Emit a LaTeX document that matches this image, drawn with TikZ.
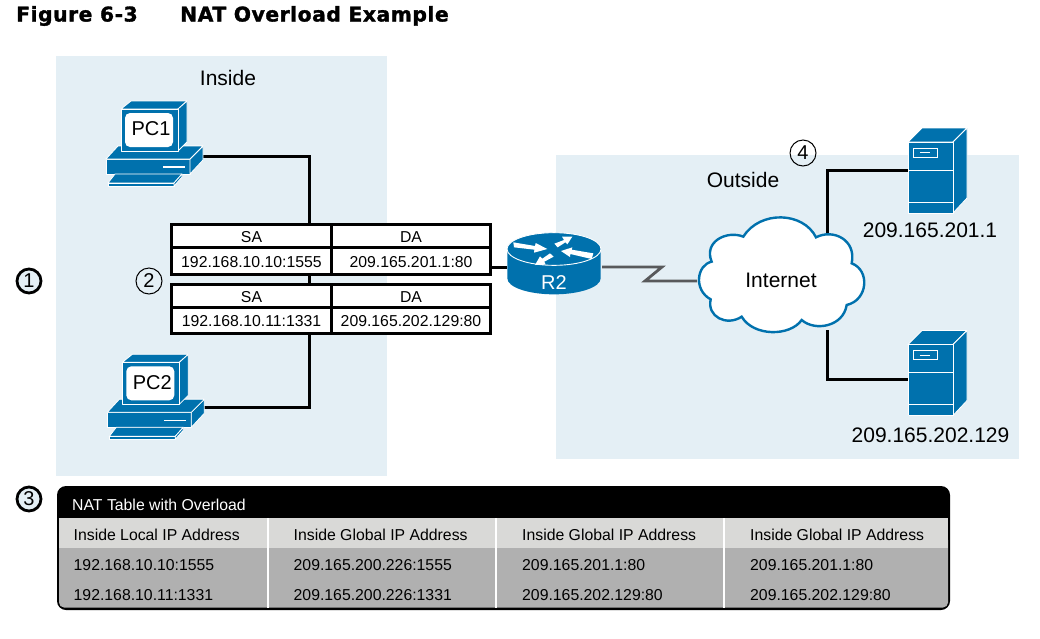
\documentclass[tikz,border=0pt]{standalone}
\usepackage{fontspec}
\setmainfont{Liberation Sans}
\newfontfamily\titlefont[LetterSpace=2.6,FakeBold=1.5]{DejaVu Sans Bold}
\usetikzlibrary{arrows.meta}
\definecolor{region}{HTML}{E4EFF5}
\definecolor{ciscoblue}{HTML}{0071AD}
\definecolor{serialgray}{HTML}{58595B}
\definecolor{headgray}{HTML}{D9D9D7}
\definecolor{datagray}{HTML}{B0B0B0}
\newcommand{\celltext}[1]{\raisebox{-1.2pt}[\height][0pt]{#1}}
\tikzset{
  x=1pt,y=-1pt,
  link/.style={line width=3pt,black,line join=miter},
  serial/.style={line width=2.8pt,serialgray,line join=miter},
  blueface/.style={fill=ciscoblue,draw=white,line width=0.8pt,line join=round},
  label/.style={font=\fontsize{21}{25}\selectfont,inner sep=0pt},
  small/.style={font=\fontsize{15.8}{19}\selectfont,inner sep=0pt},
  cellh/.style={draw=black,line width=3pt,fill=white,minimum width=159.5pt,inner sep=0pt,font=\fontsize{15.8}{19}\selectfont},
  tabtext/.style={small,anchor=base west},
  callthin/.style={circle,draw=black,line width=1pt,minimum size=26pt,inner sep=0pt,font=\fontsize{20}{24}\selectfont},
  callthick/.style={circle,draw=black,fill=region,line width=2.8pt,minimum size=24pt,inner sep=0pt,font=\fontsize{20}{24}\selectfont},
  pics/pcicon/.style={code={
    \fill[blueface] (0,13)--(84,13)--(97,0)--(12,0)--cycle;
    \draw[blueface] (0,13)--(84,13)--(84,28)--(0,28)--cycle;
    \draw[blueface] (84,13)--(97,0)--(97,14)--(84,28)--cycle;
    \draw[blueface] (0,13)--(84,13)--(97,0)--(12,0)--cycle;
    \draw[blueface] (15,-37)--(25,-45)--(81,-45)--(72,-37)--cycle;
    \draw[blueface] (72,-37)--(81,-45)--(81,-4)--(72,5)--cycle;
    \draw[blueface] (15,-37) rectangle (72,5);
    \draw[white,line width=1.2pt] (57,21)--(79,21);
    \draw[blueface] (9,28)--(76,28)--(68,37)--(2,37)--cycle;
    \draw[blueface] (2,37)--(68,37)--(68,40)--(2,40)--cycle;
    \draw[blueface] (68,37)--(76,28)--(76,31)--(68,40)--cycle;
    \node[fill=white,rounded corners=5pt,minimum width=48pt,minimum height=34pt,inner sep=0pt] (-screen) at (43,-16) {};
    \node[inner sep=0pt,font=\fontsize{20}{24}\selectfont] (-text) at (45,-17) {\tikzpictext};
  }},
  pics/servericon/.style={code={
    \draw[blueface] (0,14)--(14,0)--(59,0)--(45,14)--cycle;
    \draw[blueface] (45,14)--(59,0)--(59,70)--(45,85)--cycle;
    \draw[blueface] (0,14) rectangle (45,85);
    \draw[white,line width=0.9pt] (0,42)--(45,42) (0,74)--(45,74);
    \draw[white,line width=0.9pt] (5,20) rectangle (29,29);
    \draw[white,line width=0.9pt] (12,24.5)--(22,24.5);
  }},
}
\begin{document}
\begin{tikzpicture}
\useasboundingbox (0,0) rectangle (1040,638);
\fill[white] (0,0) rectangle (1040,638);
% regions
\fill[region] (56,56) rectangle (387,476);
\fill[region] (556,155) rectangle (1019,459);
% title
\node[anchor=base west,inner sep=0pt,font=\titlefont\fontsize{20.3}{24}\selectfont] (figno) at (16,21.5) {Figure 6-3};
\node[anchor=base west,inner sep=0pt,font=\titlefont\fontsize{20.3}{24}\selectfont] (figtitle) at (180,21.5) {NAT Overload Example};
\node[label] (inside) at (228,78) {Inside};
\node[label] (outside) at (743,180) {Outside};
% anchors for connectors
\coordinate (bus1) at (309,224);
\coordinate (bus2) at (309,274);
\coordinate (bus3) at (309,284);
\coordinate (bus4) at (309,333);
\coordinate (routerw) at (507,267);
\coordinate (routere) at (602,267);
\coordinate (tabe) at (491,267);
\coordinate (kink1) at (662,267);
\coordinate (kink2) at (645,281);
\coordinate (cloudw) at (697,281);
\coordinate (cloudt) at (827,240);
\coordinate (cloudb) at (827,330);
\coordinate (pc1port) at (203,156);
\coordinate (pc2port) at (204,407);
\coordinate (srv1port) at (908,170);
\coordinate (srv2port) at (908,379);
% connectors
\draw[link] (pc1port) -| (bus1);
\draw[link] (pc2port) -| (bus4);
\draw[link] (bus2) -- (bus3);
\draw[link] (tabe) -- (routerw);
\draw[serial] (routere) -- (kink1) -- (kink2) -- (cloudw);
\draw[link] (srv1port) -| (cloudt);
\draw[link] (srv2port) -| (cloudb);
% icons
\pic (pc1) at (106,146) [pic text=PC1] {pcicon};
\pic (pc2) at (107.3,399.3) [pic text=PC2] {pcicon};
\pic (srv1) at (908,128) {servericon};
\pic (srv2) at (908,330.5) {servericon};
% router
\begin{scope}[shift={(490,210)},scale=1/3]
  \fill[ciscoblue] (52,117) -- (52,205) arc[x radius=140,y radius=48,start angle=180,end angle=0] -- (332,117) -- cycle;
  \draw[white,line width=0.9pt,fill=ciscoblue] (192,117) ellipse[x radius=141,y radius=49];
  \fill[white] (70,97)--(135,108)--(137,99)--(172,117)--(132,128)--(133,119)--(72,112)--cycle;
  \fill[white] (193,101)--(222,90)--(216,80)--(247,80)--(232,103)--(226,97)--(203,112)--cycle;
  \fill[white] (310,130)--(245,119)--(247,112)--(213,123)--(240,141)--(241,132)--(305,147)--cycle;
  \fill[white] (180,130)--(157,146)--(150,139)--(135,165)--(167,164)--(163,155)--(191,140)--cycle;
\end{scope}
\node[inner sep=0pt,white,font=\fontsize{20}{24}\selectfont] (r2) at (554,283) {R2};
% cloud
\begin{scope}[shift={(690,120)},scale=1/3]
  \draw[fill=white,draw=ciscoblue,line width=2.4pt]
    (65,425) .. controls (20,435) and (10,510) .. (62,538)
    .. controls (50,590) and (110,620) .. (155,590)
    .. controls (190,650) and (300,650) .. (335,600)
    .. controls (375,635) and (460,620) .. (470,555)
    .. controls (535,540) and (540,450) .. (485,430)
    .. controls (500,360) and (430,325) .. (378,352)
    .. controls (340,275) and (210,270) .. (160,350)
    .. controls (110,330) and (40,365) .. (65,425) -- cycle;
\end{scope}
\node[label] (internet) at (781,280) {Internet};
\node[label] (ip1) at (930,230) {209.165.201.1};
\node[label] (ip2) at (930.5,435) {209.165.202.129};
% packet tables
\node[cellh,minimum height=23pt] (sa1) at (251.5,235.5) {\celltext{SA}};
\node[cellh,minimum height=23pt] (da1) at (411,235.5) {\celltext{DA}};
\node[cellh,minimum height=27pt] (sa1v) at (251.5,260.5) {\celltext{192.168.10.10:1555}};
\node[cellh,minimum height=27pt] (da1v) at (411,260.5) {\celltext{209.165.201.1:80}};
\node[cellh,minimum height=23pt] (sa2) at (251.5,295.5) {\celltext{SA}};
\node[cellh,minimum height=23pt] (da2) at (411,295.5) {\celltext{DA}};
\node[cellh,minimum height=26pt] (sa2v) at (251.5,320) {\celltext{192.168.10.11:1331}};
\node[cellh,minimum height=26pt] (da2v) at (411,320) {\celltext{209.165.202.129:80}};
% callouts
\node[callthick] (c1) at (29,281) {1};
\node[callthin] (c2) at (149,281) {2};
\node[callthick] (c3) at (29,499) {3};
\node[callthin] (c4) at (803,153) {4};
% NAT table
\fill[black,rounded corners=9pt] (57,486) rectangle (950,610);
\fill[datagray,rounded corners=5pt] (59,535) rectangle (948,607.5);
\fill[headgray] (59,518) rectangle (948,548);
\fill[white] (266.5,518) rectangle (268.5,607.5);
\fill[white] (495,518) rectangle (497,607.5);
\fill[white] (723,518) rectangle (725,607.5);
\node[tabtext,white] (nt) at (72,510.5) {NAT Table with Overload};
\node[tabtext] (h1) at (73.5,540) {Inside Local IP Address};
\node[tabtext] (h2) at (293.5,540) {Inside Global IP Address};
\node[tabtext] (h3) at (522,540) {Inside Global IP Address};
\node[tabtext] (h4) at (750,540) {Inside Global IP Address};
\node[tabtext] (a1) at (73.5,570) {192.168.10.10:1555};
\node[tabtext] (a2) at (293.5,570) {209.165.200.226:1555};
\node[tabtext] (a3) at (522,570) {209.165.201.1:80};
\node[tabtext] (a4) at (750,570) {209.165.201.1:80};
\node[tabtext] (b1) at (73.5,600) {192.168.10.11:1331};
\node[tabtext] (b2) at (293.5,600) {209.165.200.226:1331};
\node[tabtext] (b3) at (522,600) {209.165.202.129:80};
\node[tabtext] (b4) at (750,600) {209.165.202.129:80};
\end{tikzpicture}
\end{document}
